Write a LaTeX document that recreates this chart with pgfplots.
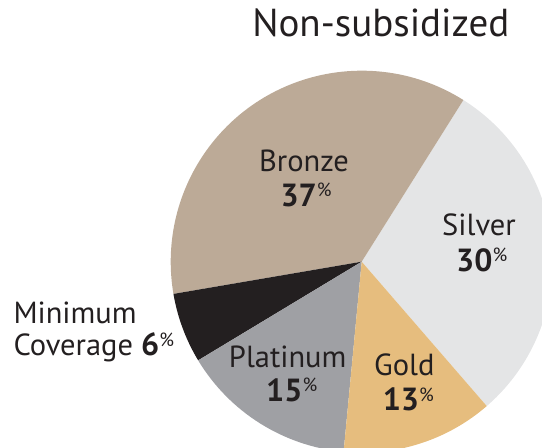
\documentclass[border=0pt]{standalone}
\usepackage{pgfplots}
\pgfplotsset{compat=1.18}
\usepackage{pgfplotstable}
\usepackage{fontspec}
\setmainfont{PT Sans}

\definecolor{cSilver}{RGB}{228,229,230}
\definecolor{cBronze}{RGB}{188,170,151}
\definecolor{cMin}{RGB}{35,31,32}
\definecolor{cPlat}{RGB}{159,160,164}
\definecolor{cGold}{RGB}{230,189,126}
\definecolor{ink}{RGB}{35,31,32}

\newcommand{\lbl}{\fontsize{30.5pt}{34pt}\selectfont}
\newcommand{\num}[1]{{\fontsize{32pt}{34pt}\selectfont\bfseries #1}\raisebox{10pt}{\fontsize{19pt}{19pt}\selectfont\%}}

\pgfplotstableread{
label value
Silver 30
Bronze 37
Minimum 6
Platinum 15
Gold 13
}\piedata

\begin{document}
\begin{tikzpicture}
\useasboundingbox (0,0) rectangle (542pt,448pt);
\clip (0,0) rectangle (542pt,448pt);
\pgfplotstablegetelem{0}{value}\of\piedata \let\vA\pgfplotsretval
\pgfplotstablegetelem{1}{value}\of\piedata \let\vB\pgfplotsretval
\pgfplotstablegetelem{2}{value}\of\piedata \let\vC\pgfplotsretval
\pgfplotstablegetelem{3}{value}\of\piedata \let\vD\pgfplotsretval
\pgfplotstablegetelem{4}{value}\of\piedata \let\vE\pgfplotsretval
\pgfmathsetmacro{\tot}{\vA+\vB+\vC+\vD+\vE}
\pgfmathsetmacro{\aA}{-49.1}
\pgfmathsetmacro{\aB}{\aA+\vA*360/\tot}
\pgfmathsetmacro{\aC}{\aB+\vB*360/\tot}
\pgfmathsetmacro{\aD}{\aC+\vC*360/\tot}
\pgfmathsetmacro{\aE}{\aD+\vD*360/\tot}
\pgfmathsetmacro{\aF}{\aE+\vE*360/\tot}
\begin{axis}[
  at={(0,0)}, anchor=south west,
  x=1pt, y=1pt,
  xmin=-361.7, xmax=180.3, ymin=-186.3, ymax=261.7,
  hide axis, clip=false,
]
\def\R{191pt}
\fill[cSilver] (axis cs:0,0) -- +(\aA:\R) arc[start angle=\aA, end angle=\aB, radius=\R] -- cycle;
\fill[cBronze] (axis cs:0,0) -- +(\aB:\R) arc[start angle=\aB, end angle=\aC, radius=\R] -- cycle;
\fill[cMin] (axis cs:0,0) -- +(\aC:\R) arc[start angle=\aC, end angle=\aD, radius=\R] -- cycle;
\fill[cPlat] (axis cs:0,0) -- +(\aD:\R) arc[start angle=\aD, end angle=\aE, radius=\R] -- cycle;
\fill[cGold] (axis cs:0,0) -- +(\aE:\R) arc[start angle=\aE, end angle=\aF, radius=\R] -- cycle;

\node[anchor=base, text=ink, inner sep=0pt, font=\fontsize{39pt}{42pt}\selectfont] at (axis cs:19.1,225) {Non-subsidized};

\node[anchor=base, text=ink, inner sep=0pt, font=\lbl] at (axis cs:-57.7,90) {Bronze};
\node[anchor=base, text=ink, inner sep=0pt, font=\lbl] at (axis cs:-55.7,55) {\num{37}};
\node[anchor=base, text=ink, inner sep=0pt, font=\lbl] at (axis cs:117.3,25.7) {Silver};
\node[anchor=base, text=ink, inner sep=0pt, font=\lbl] at (axis cs:120,-10) {\num{30}};
\node[anchor=base, text=ink, inner sep=0pt, font=\lbl] at (axis cs:42.6,-114.3) {Gold};
\node[anchor=base, text=ink, inner sep=0pt, font=\lbl] at (axis cs:46.6,-149.3) {\num{13}};
\node[anchor=base, text=ink, inner sep=0pt, font=\lbl] at (axis cs:-74,-105.6) {Platinum};
\node[anchor=base, text=ink, inner sep=0pt, font=\lbl] at (axis cs:-70,-140) {\num{15}};
\node[anchor=base west, text=ink, inner sep=0pt, font=\lbl] at (axis cs:-348.4,-61.6) {Minimum};
\node[anchor=base west, text=ink, inner sep=0pt, font=\lbl] at (axis cs:-348.4,-94.3) {Coverage \num{6}};
\end{axis}
\end{tikzpicture}
\end{document}
